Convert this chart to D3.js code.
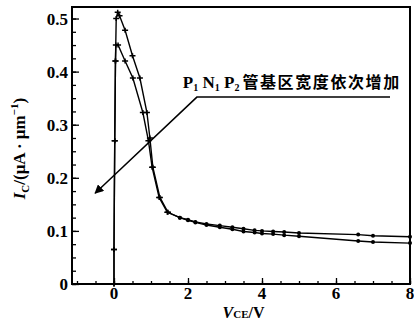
<!DOCTYPE html>
<html>
<head>
<meta charset="utf-8">
<script src="https://cdn.jsdelivr.net/npm/d3@7"></script>
<style>
  body { margin: 0; background: #fff; }
  svg { display: block; }
  .tick-label { font-family: "Liberation Serif", "DejaVu Serif", serif; font-weight: bold; font-size: 17px; }
</style>
</head>
<body>
<div class="chart"></div>
<script>
// DATA ------------------------------
// curve with the higher peak
const vA = [0, 0.0, 0.02, 0.04, 0.06, 0.1, 0.15, 0.3, 0.5, 0.7, 0.89, 0.97, 1.05, 1.24, 1.46, 1.78, 2.0, 2.2, 2.5, 2.86, 3.2, 3.5, 3.8, 4.0, 4.3, 4.6, 5.0, 6.6, 7.0, 8.0];
const iA = [0, 0.065, 0.27, 0.42, 0.5, 0.512, 0.505, 0.478, 0.43, 0.388, 0.323, 0.275, 0.22, 0.163, 0.135, 0.125, 0.121, 0.117, 0.113, 0.11, 0.107, 0.104, 0.101, 0.1, 0.099, 0.098, 0.096, 0.093, 0.091, 0.089];
// curve with the lower peak
const vB = [0, 0.0, 0.02, 0.04, 0.05, 0.11, 0.3, 0.51, 0.78, 0.93, 1.03, 1.22, 1.44, 1.78, 2.0, 2.2, 2.5, 2.86, 3.2, 3.5, 3.8, 4.0, 4.3, 4.6, 5.0, 6.6, 7.0, 8.0];
const iB = [0, 0.065, 0.27, 0.42, 0.45, 0.45, 0.42, 0.388, 0.323, 0.27, 0.22, 0.163, 0.135, 0.125, 0.12, 0.116, 0.111, 0.107, 0.103, 0.099, 0.097, 0.095, 0.094, 0.092, 0.09, 0.081, 0.079, 0.077];

const xTicks = [0, 2, 4, 6, 8];
const yTicks = [0, 0.1, 0.2, 0.3, 0.4, 0.5];
const yTickLabels = ["0", "0.1", "0.2", "0.3", "0.4", "0.5"];

// CHART INIT ------------------------------
const W = 414, H = 331;
const margin = ({top: 7, right: 4, bottom: 47, left: 72});
const width = W - margin.left - margin.right;
const height = H - margin.top - margin.bottom;

const svg = d3.select(".chart").append("svg")
    .attr("width", W)
    .attr("height", H)
  .append("g")
    .attr("transform", "translate(" + margin.left + "," + margin.top + ")");

const xScale = d3.scaleLinear().domain([-1.135, 8]).range([0, width]);
const yScale = d3.scaleLinear().domain([0, 0.5217]).range([height, 0]);

// axes, ticks pointing inward
const xMinor = d3.range(-1, 8.01, 0.5);
svg.append("g")
    .attr("transform", `translate(0,${height})`)
    .call(d3.axisTop(xScale).tickValues(xMinor).tickSize(3).tickFormat(""))
    .call(g => g.select(".domain").remove());
svg.append("g")
    .attr("transform", `translate(0,${height})`)
    .call(d3.axisTop(xScale).tickValues(xTicks).tickSize(6).tickFormat(""))
    .call(g => g.select(".domain").remove());

svg.append("g")
    .call(d3.axisRight(yScale).tickValues(d3.range(0, 0.51, 0.025)).tickSize(4).tickFormat(""))
    .call(g => g.select(".domain").remove());
svg.append("g")
    .call(d3.axisRight(yScale).tickValues(yTicks).tickSize(7).tickFormat(""))
    .call(g => g.select(".domain").remove());

svg.selectAll(".tick line").attr("stroke", "#000").attr("stroke-width", 1.3);

// tick labels
svg.selectAll(".xl").data(xTicks).enter().append("text")
    .attr("class", "tick-label")
    .attr("x", d => xScale(d))
    .attr("y", height + 15)
    .attr("text-anchor", "middle")
    .text(d => d);

svg.selectAll(".yl").data(yTicks).enter().append("text")
    .attr("class", "tick-label")
    .attr("x", -4)
    .attr("y", d => yScale(d) + 6)
    .attr("text-anchor", "end")
    .text((d, i) => yTickLabels[i]);

// frame
svg.append("rect")
    .attr("width", width).attr("height", height)
    .attr("fill", "none").attr("stroke", "#000").attr("stroke-width", 2);

// curves
const line = d3.line().x(d => xScale(d[0])).y(d => yScale(d[1]));
const series = [d3.zip(vA, iA), d3.zip(vB, iB)];

series.forEach(pts => {
  svg.append("path")
      .datum(pts)
      .attr("fill", "none")
      .attr("stroke", "#000")
      .attr("stroke-width", 1.4)
      .attr("d", line);

  svg.selectAll(null).data(pts.filter(d => d[0] < 1.6)).enter().append("path")
      .attr("transform", d => `translate(${xScale(d[0])},${yScale(d[1])})`)
      .attr("d", "M-3,0H3M0,-2.5V2.5")
      .attr("stroke", "#000").attr("stroke-width", 1.5);

  svg.selectAll(null).data(pts.filter(d => d[0] >= 1.6)).enter().append("circle")
      .attr("cx", d => xScale(d[0])).attr("cy", d => yScale(d[1]))
      .attr("r", 2).attr("fill", "#000");
});

// annotation
svg.append("defs").append("marker")
    .attr("id", "ah").attr("viewBox", "0 0 10 10")
    .attr("refX", 9).attr("refY", 5)
    .attr("markerWidth", 9).attr("markerHeight", 9)
    .attr("markerUnits", "userSpaceOnUse")
    .attr("orient", "auto")
  .append("path").attr("d", "M0,0L10,5L0,10Z").attr("fill", "#000");

svg.append("path")
    .attr("d", `M${xScale(7.46)},${yScale(0.352)}H${xScale(2.24)}L${xScale(-0.51)},${yScale(0.171)}`)
    .attr("fill", "none").attr("stroke", "#000").attr("stroke-width", 1.5)
    .attr("marker-end", "url(#ah)");

const note = svg.append("text")
    .attr("x", xScale(1.86)).attr("y", yScale(0.369))
    .attr("font-size", 16).attr("font-weight", "bold");
[["P", ""], ["1", "sub"], [" N", ""], ["1", "sub"], [" P", ""], ["2", "sub"]].forEach(([t, k]) => {
  note.append("tspan")
      .attr("font-family", "Liberation Serif, serif")
      .attr("font-size", k ? 10 : 17)
      .attr("dy", k ? 3 : (t === "P" ? 0 : -3))
      .text(t);
});
note.append("tspan")
    .attr("dy", -3).attr("dx", 3)
    .attr("font-family", "Noto Sans CJK SC")
    .attr("letter-spacing", 1.6)
    .text("管基区宽度依次增加");

// axis titles
const xt = svg.append("text")
    .attr("x", xScale(3.5)).attr("y", height + 34)
    .attr("text-anchor", "middle")
    .attr("font-family", "Liberation Serif, serif").attr("font-weight", "bold").attr("font-size", 16);
xt.append("tspan").attr("font-style", "italic").text("V");
xt.append("tspan").attr("font-size", 11).text("CE");
xt.append("tspan").text("/V");

const yt = svg.append("text")
    .attr("transform", `translate(-47,${yScale(0.255)}) rotate(-90)`)
    .attr("text-anchor", "middle")
    .attr("font-family", "Liberation Serif, serif").attr("font-weight", "bold").attr("font-size", 17);
yt.append("tspan").attr("font-style", "italic").text("I");
yt.append("tspan").attr("font-size", 11).attr("dy", 4).text("C");
yt.append("tspan").attr("dy", -4).text("/(μA · μm");
yt.append("tspan").attr("font-size", 11).attr("dy", -7).text("−1");
yt.append("tspan").attr("dy", 7).text(")");
</script>
</body>
</html>
